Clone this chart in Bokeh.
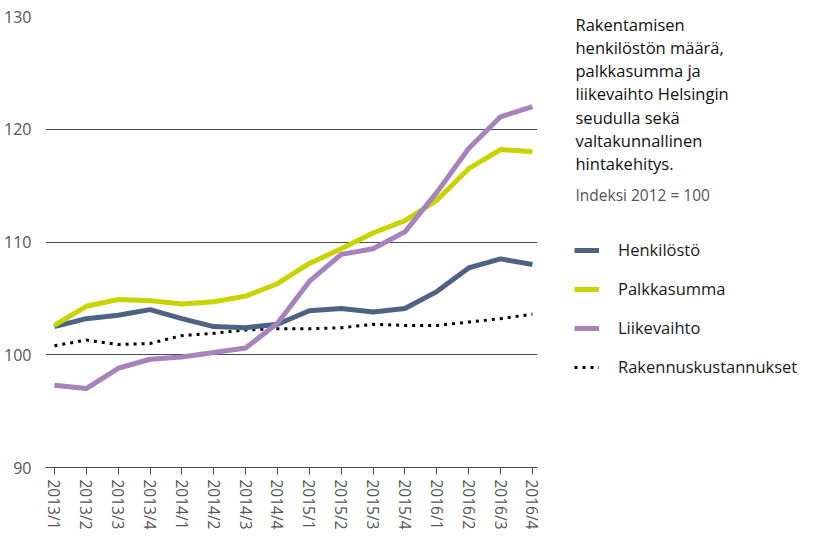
from bokeh.plotting import figure
from bokeh.models import Legend, LegendItem, Label, FixedTicker, Range1d
from bokeh.layouts import row
from bokeh.embed import file_html
from bokeh.resources import INLINE

quarters = ["2013/1", "2013/2", "2013/3", "2013/4", "2014/1", "2014/2", "2014/3", "2014/4",
            "2015/1", "2015/2", "2015/3", "2015/4", "2016/1", "2016/2", "2016/3", "2016/4"]
henkilosto = [102.5, 103.2, 103.5, 104.0, 103.2, 102.5, 102.4, 102.7,
              103.9, 104.1, 103.8, 104.1, 105.6, 107.7, 108.5, 108.0]
palkkasumma = [102.6, 104.3, 104.9, 104.8, 104.5, 104.7, 105.2, 106.3,
               108.1, 109.4, 110.8, 111.9, 113.7, 116.5, 118.2, 118.0]
liikevaihto = [97.3, 97.0, 98.8, 99.6, 99.8, 100.2, 100.6, 102.8,
               106.5, 108.9, 109.4, 110.9, 114.4, 118.3, 121.1, 122.0]
rakennuskust = [100.8, 101.3, 100.9, 101.0, 101.7, 101.9, 102.2, 102.3,
                102.3, 102.4, 102.7, 102.6, 102.6, 102.9, 103.2, 103.6]
y_ticks = [90, 100, 110, 120, 130]

title_lines = ["Rakentamisen", "henkilöstön määrä,", "palkkasumma ja",
               "liikevaihto  Helsingin", "seudulla sekä", "valtakunnallinen",
               "hintakehitys."]
subtitle = "Indeksi 2012 = 100"
series_names = ["Henkilöstö", "Palkkasumma", "Liikevaihto", "Rakennuskustannukset"]
series_values = [henkilosto, palkkasumma, liikevaihto, rakennuskust]

FONT = "Open Sans"
H = 540
W1 = 548
W2 = 815 - W1
x = list(range(len(quarters)))

p = figure(width=W1, height=H, output_backend="svg", toolbar_location=None,
           x_range=(-0.28, 15.16), y_range=(90, 130),
           min_border_left=45, min_border_top=16, min_border_right=11, min_border_bottom=73)
p.outline_line_color = None

p.xgrid.grid_line_color = None
p.ygrid.grid_line_color = "#4a4a4a"
p.ygrid.grid_line_width = 1
p.ygrid.ticker = FixedTicker(ticks=y_ticks)

p.yaxis.ticker = FixedTicker(ticks=y_ticks)
p.yaxis.axis_line_color = None
p.yaxis.major_tick_line_color = None
p.yaxis.minor_tick_line_color = None
p.yaxis.major_label_standoff = 8
p.yaxis.major_label_text_font = FONT
p.yaxis.major_label_text_font_size = "16px"
p.yaxis.major_label_text_color = "#555555"

p.xaxis.ticker = FixedTicker(ticks=x)
p.xaxis.major_label_overrides = {i: q for i, q in enumerate(quarters)}
p.xaxis.major_label_orientation = "vertical"
p.xaxis.axis_line_color = "#4a4a4a"
p.xaxis.major_tick_line_color = "#4a4a4a"
p.xaxis.major_tick_out = 7
p.xaxis.major_tick_in = 0
p.xaxis.minor_tick_line_color = None
p.xaxis.major_label_standoff = 5
p.xaxis.major_label_text_font = FONT
p.xaxis.major_label_text_font_size = "15.5px"
p.xaxis.major_label_text_color = "#555555"

styles = [dict(line_color="#4e6285", line_width=5),
          dict(line_color="#c9d300", line_width=5),
          dict(line_color="#a683bd", line_width=5),
          dict(line_color="black", line_width=3, line_dash="3 5")]

for idx in [3, 0, 1, 2]:
    p.line(x, series_values[idx], **styles[idx])

# Side panel with title and legend (coordinates in page pixels)
p2 = figure(width=W2, height=H, output_backend="svg", toolbar_location=None,
            x_range=Range1d(W1, 815), y_range=Range1d(467, 16),
            min_border_left=0, min_border_right=0,
            min_border_top=16, min_border_bottom=73)
p2.axis.visible = False
p2.grid.visible = False
p2.outline_line_color = None

items = []
for name, vals, st in zip(series_names, series_values, styles):
    # series drawn outside this panel's visible range; used only as legend samples
    r = p2.line(x, vals, **st)
    items.append(LegendItem(label=name, renderers=[r]))

legend = Legend(items=items, location=(574 - W1, 467 - 378), orientation="vertical")
legend.glyph_width = 25
legend.glyph_height = 20
legend.label_height = 20
legend.label_standoff = 19
legend.spacing = 16
legend.padding = 0
legend.margin = 0
legend.border_line_color = None
legend.background_fill_alpha = 0
legend.label_text_font = FONT
legend.label_text_font_size = "16.5px"
legend.label_text_color = "#1a1a1a"
p2.add_layout(legend, "center")

for i, line in enumerate(title_lines):
    p2.add_layout(Label(x=575, y=23.5 + 23.3 * i, text=line, text_font=FONT,
                        text_font_size="16.5px", text_color="#111111",
                        text_baseline="middle", text_align="left"))
p2.add_layout(Label(x=575, y=194, text=subtitle, text_font=FONT,
                    text_font_size="15.5px", text_color="#555555",
                    text_baseline="middle", text_align="left"))

layout = row(p, p2)
open("out.html", "w").write(file_html(layout, INLINE))
